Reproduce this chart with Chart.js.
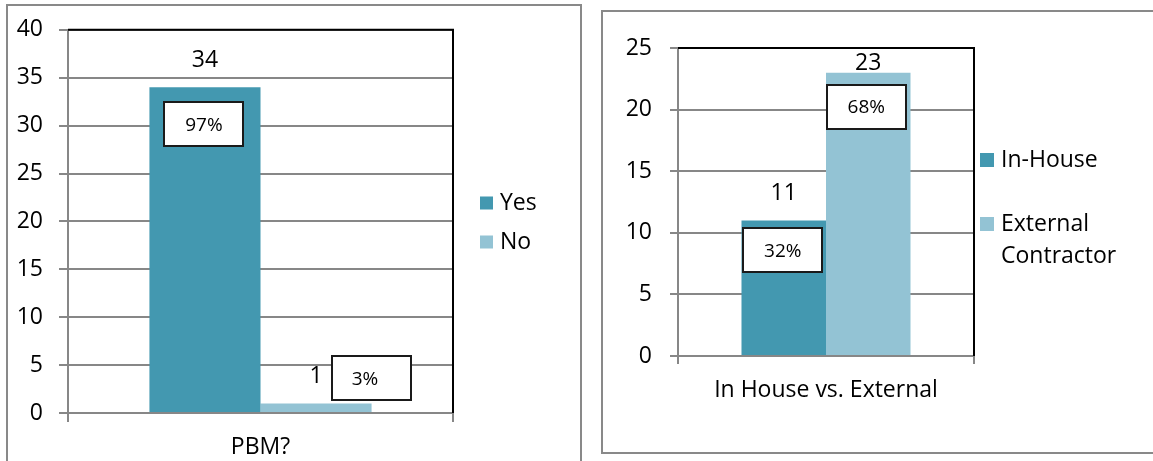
<!DOCTYPE html>
<html><head><meta charset="utf-8">
<script src="https://cdn.jsdelivr.net/npm/chart.js@4.4.0/dist/chart.umd.min.js"></script>
<style>
html,body{margin:0;padding:0;background:#fff;width:1153px;height:461px;overflow:hidden;}
.panel{position:absolute;border:2px solid #898989;box-sizing:border-box;}
#pA{left:6px;top:4px;width:576px;height:470px;}
#pB{left:601px;top:10px;width:570px;height:444px;}
canvas{position:absolute;top:0;}
#cA{left:0}
#cB{left:595px}
</style></head>
<body>
<div class="panel" id="pA"></div>
<div class="panel" id="pB"></div>
<canvas id="cA" width="590" height="461"></canvas>
<canvas id="cB" width="558" height="461"></canvas>
<script>
// ---- data: chart A (PBM?) ----
const pbmCategories = ['PBM?'];
const pbmSeries = ['Yes', 'No'];
const pbmValues = [34, 1];
const pbmPercents = ['97%', '3%'];
const pbmYTicks = [0, 5, 10, 15, 20, 25, 30, 35, 40];

// ---- data: chart B (In House vs. External) ----
const srcCategories = ['In House vs. External'];
const srcSeries = ['In-House', 'External Contractor'];
const srcValues = [11, 23];
const srcPercents = ['32%', '68%'];
const srcYTicks = [0, 5, 10, 15, 20, 25];

const seriesColors = ['#4398b0', '#93c3d4'];
const FONT = '"Open Sans", sans-serif';
const GRID = '#878787';
const FS = 23;

function wrapText(ctx, text, maxW) {
  const words = text.split(' ');
  const lines = [];
  let cur = '';
  for (const w of words) {
    const t = cur ? cur + ' ' + w : w;
    if (cur && ctx.measureText(t).width > maxW) { lines.push(cur); cur = w; }
    else cur = t;
  }
  if (cur) lines.push(cur);
  return lines;
}

const decor = {
  id: 'decor',
  afterDatasetsDraw(chart, args, o) {
    const ctx = chart.ctx, a = chart.chartArea;
    ctx.save();
    // plot area top/right black outline
    ctx.strokeStyle = '#000';
    ctx.lineWidth = 2;
    ctx.beginPath();
    ctx.moveTo(a.left, a.top);
    ctx.lineTo(a.right, a.top);
    ctx.lineTo(a.right, a.bottom);
    ctx.stroke();
    // value labels + percent boxes
    chart.data.datasets.forEach((ds, i) => {
      const el = chart.getDatasetMeta(i).data[0];
      const v = ds.data[0];
      ctx.fillStyle = '#000';
      ctx.font = FS + 'px ' + FONT;
      ctx.textAlign = 'center';
      ctx.textBaseline = 'middle';
      const ly = Math.max(el.y - 27, a.top + 15);
      ctx.fillText(String(v), el.x, ly);
      const off = o.boxOffsets[i];
      const cx = el.x + off.dx, cy = el.y + off.dy;
      const w = o.boxW, h = o.boxH;
      ctx.fillStyle = '#fff';
      ctx.fillRect(Math.round(cx - w / 2), Math.round(cy - h / 2), w, h);
      ctx.strokeStyle = '#1a1a1a';
      ctx.lineWidth = 2;
      ctx.strokeRect(Math.round(cx - w / 2), Math.round(cy - h / 2), w, h);
      ctx.fillStyle = '#000';
      ctx.font = '19px ' + FONT;
      ctx.fillText(o.percents[i], cx + (off.tdx || 0), cy + 1);
    });
    ctx.restore();
  },
  afterDraw(chart, args, o) {
    const ctx = chart.ctx;
    const L = o.legend;
    ctx.save();
    ctx.font = FS + 'px ' + FONT;
    ctx.textAlign = 'left';
    ctx.textBaseline = 'middle';
    chart.data.datasets.forEach((ds, i) => {
      const y = L.ys[i];
      ctx.fillStyle = ds.backgroundColor;
      ctx.fillRect(L.x, y - L.size / 2, L.size, L.size);
      ctx.fillStyle = '#000';
      const lines = wrapText(ctx, ds.label, L.maxW);
      lines.forEach((ln, k) => ctx.fillText(ln, L.x + L.textDx, y + k * L.lineH));
    });
    ctx.restore();
  }
};

function makeChart(id, cats, series, values, yTicks, percents, cfg) {
  return new Chart(document.getElementById(id), {
    type: 'bar',
    data: {
      labels: cats,
      datasets: series.map((s, i) => ({
        label: s,
        data: [values[i]],
        backgroundColor: seriesColors[i],
        borderWidth: 0,
        barPercentage: 1,
        categoryPercentage: cfg.catPct
      }))
    },
    options: {
      responsive: false,
      animation: false,
      layout: { padding: cfg.padding },
      plugins: {
        legend: { display: false },
        tooltip: { enabled: false },
        decor: {
          percents: percents,
          boxOffsets: cfg.boxOffsets,
          boxW: 79, boxH: 44,
          legend: cfg.legend
        }
      },
      scales: {
        x: {
          offset: true,
          grid: { display: true, drawOnChartArea: false, drawTicks: true, tickLength: cfg.tickLen, color: GRID, lineWidth: 2, offset: true },
          border: { display: true, color: GRID, width: 2 },
          ticks: { color: '#000', font: { family: FONT, size: FS }, padding: cfg.xPad, maxRotation: 0 },
          afterFit(s) { s.height = cfg.xHeight; }
        },
        y: {
          min: yTicks[0],
          max: yTicks[yTicks.length - 1],
          ticks: { stepSize: yTicks[1] - yTicks[0], color: '#000', font: { family: FONT, size: FS }, padding: cfg.yPad },
          grid: { color: GRID, lineWidth: 2, drawTicks: true, tickLength: cfg.tickLen },
          border: { display: true, color: GRID, width: 2 },
          afterFit(s) { s.width = cfg.yWidth; }
        }
      }
    },
    plugins: [decor]
  });
}

makeChart('cA', pbmCategories, pbmSeries, pbmValues, pbmYTicks, pbmPercents, {
  catPct: 0.577,
  padding: { left: 0, top: 24, right: 137, bottom: 0 },
  yWidth: 68, xHeight: 48, tickLen: 9, yPad: 16, xPad: 12,
  boxOffsets: [{ dx: -1, dy: 37 }, { dx: 55, dy: -25, tdx: -6 }],
  legend: { x: 480, ys: [203, 242], size: 13, textDx: 20, lineH: 32, maxW: 140 }
});

makeChart('cB', srcCategories, srcSeries, srcValues, srcYTicks, srcPercents, {
  catPct: 0.571,
  padding: { left: 0, top: 48, right: 179, bottom: 0 },
  yWidth: 83, xHeight: 105, tickLen: 8, yPad: 18, xPad: 13,
  boxOffsets: [{ dx: -1, dy: 30 }, { dx: -2, dy: 34 }],
  legend: { x: 385, ys: [160, 224], size: 14, textDx: 21, lineH: 32, maxW: 150 }
});
</script>
</body></html>
